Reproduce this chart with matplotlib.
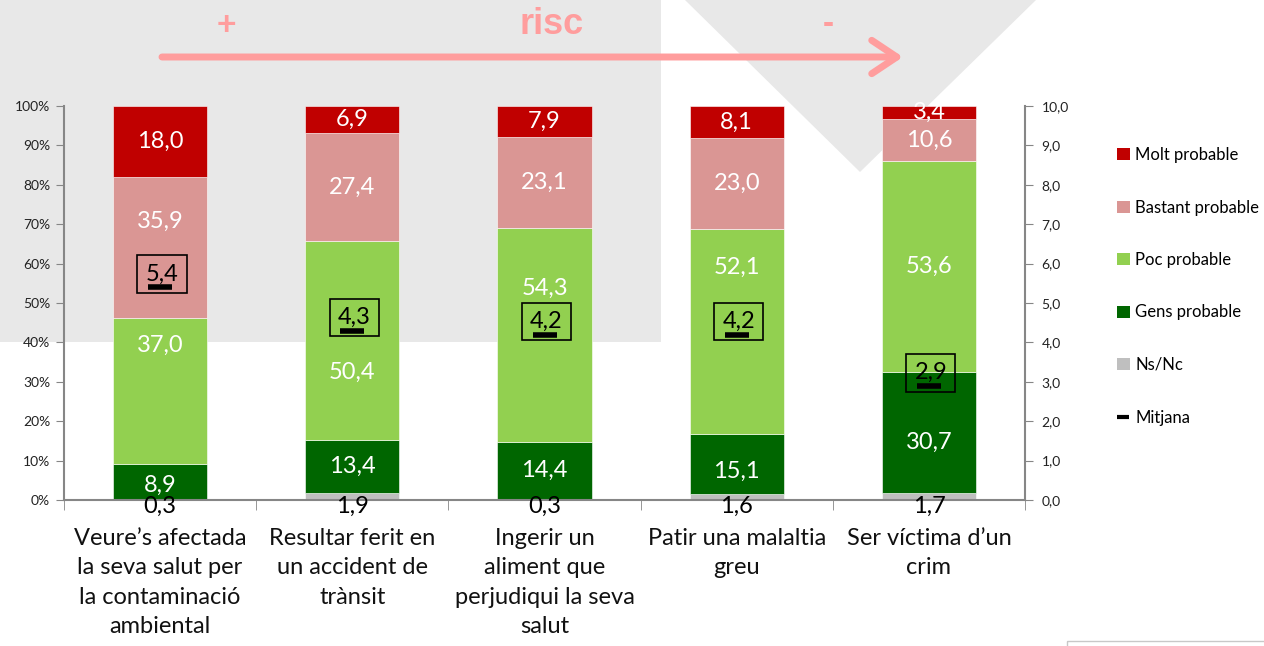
import matplotlib
matplotlib.use("Agg")
import matplotlib.pyplot as plt
from matplotlib.patches import Rectangle, Polygon, Patch
from matplotlib.lines import Line2D

plt.rcParams['font.family'] = ['Lato', 'DejaVu Sans']

categories = ["Veure\u2019s afectada\nla seva salut per\nla contaminació\nambiental",
              "Resultar ferit en\nun accident de\ntrànsit",
              "Ingerir un\naliment que\nperjudiqui la seva\nsalut",
              "Patir una malaltia\ngreu",
              "Ser víctima d\u2019un\ncrim"]
series_names = ['Ns/Nc', 'Gens probable', 'Poc probable', 'Bastant probable', 'Molt probable']
ns_nc = [0.3, 1.9, 0.3, 1.6, 1.7]
gens = [8.9, 13.4, 14.4, 15.1, 30.7]
poc = [37.0, 50.4, 54.3, 52.1, 53.6]
bastant = [35.9, 27.4, 23.1, 23.0, 10.6]
molt = [18.0, 6.9, 7.9, 8.1, 3.4]
mitjana = [5.4, 4.3, 4.2, 4.2, 2.9]

colors = ['#bfbfbf', '#006600', '#92d050', '#da9694', '#c00000']
# labels moved away from the mean box in the original (percent position)
label_override = {(2, 0): 39.3, (2, 1): 32.5, (2, 2): 53.8, (2, 3): 59.0,
                  (3, 0): 70.6, (1, 0): 3.8, (1, 3): 7.4, (1, 4): 14.7}

def fmt(v):
    return f"{v:.1f}".replace('.', ',')

fig = plt.figure(figsize=(12.64, 6.46), dpi=100)

# background decoration
bg = fig.add_axes([0, 0, 1, 1], zorder=0)
bg.set_xlim(0, 1264)
bg.set_ylim(646, 0)
bg.axis('off')
bg.add_patch(Rectangle((0, 0), 661, 342, color='#e8e8e8', lw=0))
bg.add_patch(Polygon([(685, 0), (1036, 0), (860, 172)], closed=True, color='#e8e8e8', lw=0))
bg.add_patch(Rectangle((1067, 641), 210, 20, fill=False, edgecolor='#c8c8c8', lw=1))
pink = '#ff9d9d'
bg.annotate('', xy=(903, 57), xytext=(162, 57),
            arrowprops=dict(arrowstyle='->,head_length=0.9,head_width=0.6', lw=5, color=pink,
                            shrinkA=0, shrinkB=0, mutation_scale=20))
bg.text(226, 27, '+', color=pink, fontsize=24, fontweight='bold', ha='center', va='center',
        family='Liberation Sans')
bg.text(552, 25, 'risc', color=pink, fontsize=26, fontweight='bold', ha='center', va='center',
        family='Liberation Sans')
bg.text(828, 25, '-', color=pink, fontsize=24, fontweight='bold', ha='center', va='center',
        family='Liberation Sans')

ax = fig.add_axes([64 / 1264, 146 / 646, 961 / 1264, 394 / 646], zorder=1)
ax.set_facecolor('none')
x = list(range(len(categories)))
width = 0.49
bottom = [0.0] * len(x)
data = [ns_nc, gens, poc, bastant, molt]
for si, vals in enumerate(data):
    ax.bar(x, vals, width, bottom=bottom, color=colors[si], edgecolor='white', linewidth=0.4,
           label=series_names[si])
    for ci, v in enumerate(vals):
        if si == 0:
            ax.text(ci, -1.6, fmt(v), ha='center', va='center', fontsize=17, color='black', zorder=5)
        else:
            yp = label_override.get((si, ci), bottom[ci] + v / 2)
            ax.text(ci, yp, fmt(v), ha='center', va='center', fontsize=17, color='white', zorder=5)
    bottom = [b + v for b, v in zip(bottom, vals)]

ax.set_xlim(-0.5, 4.5)
ax.set_ylim(0, 100)
ax.set_yticks(range(0, 101, 10))
ax.set_yticklabels([f"{t}%" for t in range(0, 101, 10)], fontsize=10, color='#222222')
ax.set_xticks(x)
ax.set_xticklabels(categories, fontsize=17, linespacing=1.5, color='#111111')
ax.set_xticks([i - 0.5 for i in range(len(x) + 1)], minor=True)
ax.tick_params(axis='x', which='major', length=0, pad=20)
ax.tick_params(axis='x', which='minor', length=7, color='#868686', direction='out')
ax.tick_params(axis='y', length=6, color='#868686', direction='out', pad=4)
for s in ['top', 'right']:
    ax.spines[s].set_visible(False)
for s in ['left', 'bottom']:
    ax.spines[s].set_color('#868686')
    ax.spines[s].set_linewidth(1.5)

ax2 = ax.twinx()
ax2.set_ylim(0, 10)
ax2.set_yticks(range(0, 11))
ax2.set_yticklabels([fmt(t) for t in range(0, 11)], fontsize=10, color='#222222')
ax2.tick_params(axis='y', length=6, color='#868686', direction='out', pad=6)
for s in ['top', 'left', 'bottom']:
    ax2.spines[s].set_visible(False)
ax2.spines['right'].set_color('#868686')
ax2.spines['right'].set_linewidth(1.5)
ax2.plot(x, mitjana, linestyle='none', marker='_', markersize=17, markeredgewidth=4,
         color='black', zorder=6)
for ci, m in enumerate(mitjana):
    ax2.text(ci + 0.01, m + 0.33, fmt(m), ha='center', va='center', fontsize=17, color='black',
             zorder=7, bbox=dict(boxstyle='square,pad=0.35', facecolor='none', edgecolor='black', lw=1.2))

handles = [Patch(facecolor=colors[i], edgecolor='none') for i in range(4, -1, -1)]
handles.append(Line2D([], [], linestyle='none', marker='_', markersize=9, markeredgewidth=3,
                      color='black'))
labels = [series_names[i] for i in range(4, -1, -1)] + ['Mitjana']
fig.legend(handles, labels, loc='upper left', bbox_to_anchor=(1117 / 1264, 1 - 147 / 646),
           frameon=False, fontsize=12, labelspacing=2.19, handlelength=0.75, handleheight=0.75,
           handletextpad=0.35, borderaxespad=0, borderpad=0)

fig.savefig('out.png', dpi=100)
